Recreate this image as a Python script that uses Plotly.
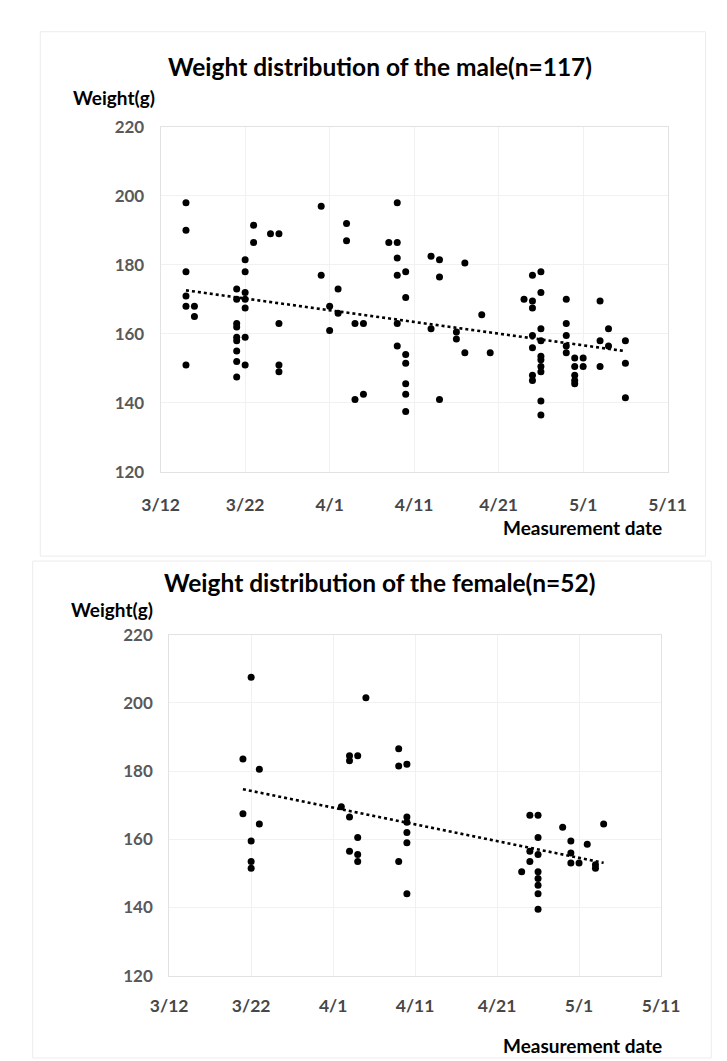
import numpy as np
import pandas as pd
import plotly.graph_objects as go

W, H = 727, 1061
YEAR = 2019

# ---------------- data ----------------
male_day = (["3/15"] * 6 + ["3/16"] * 2 + ["3/21"] * 9 + ["3/22"] * 7 + ["3/23"] * 2 +
            ["3/25"] * 1 + ["3/26"] * 4 + ["3/31"] * 2 + ["4/1"] * 2 + ["4/2"] * 2 +
            ["4/3"] * 2 + ["4/4"] * 2 + ["4/5"] * 2 + ["4/8"] * 1 + ["4/9"] * 6 +
            ["4/10"] * 7 + ["4/13"] * 2 + ["4/14"] * 3 + ["4/16"] * 2 + ["4/17"] * 2 +
            ["4/19"] * 1 + ["4/20"] * 1 + ["4/24"] * 1 + ["4/25"] * 7 + ["4/26"] * 10 +
            ["4/29"] * 5 + ["4/30"] * 5 + ["5/1"] * 2 + ["5/3"] * 3 + ["5/4"] * 2 +
            ["5/6"] * 3)
male_weight = [198, 190, 178, 171, 168, 151,
               168, 165,
               173, 170, 163, 162, 159, 158, 155, 152, 147.5,
               181.5, 178, 172, 170, 167.5, 159, 151,
               191.5, 186.5,
               189,
               189, 163, 151, 149,
               197, 177,
               168, 161,
               173, 166,
               192, 187,
               163, 141,
               163, 142.5,
               186.5,
               198, 186.5, 182, 177, 163, 156.5,
               178, 170.5, 154, 151.5, 145.5, 142.5, 137.5,
               182.5, 161.5,
               181.5, 176.5, 141,
               160.5, 158.5,
               180.5, 154.5,
               165.5,
               154.5,
               170,
               177, 169.5, 167.5, 159.5, 156, 148, 146.5,
               178, 172, 161.5, 158, 153.5, 152.5, 150.5, 149, 140.5, 136.5,
               170, 163, 159.5, 156.5, 154.5,
               153, 150.5, 148, 146.5, 145.5,
               153, 150.5,
               169.5, 158, 150.5,
               161.5, 156.5,
               158, 151.5, 141.5]

female_day = (["3/21"] * 2 + ["3/22"] * 4 + ["3/23"] * 2 + ["4/2"] * 1 + ["4/3"] * 4 +
              ["4/4"] * 4 + ["4/5"] * 1 + ["4/9"] * 3 + ["4/10"] * 6 + ["4/24"] * 1 +
              ["4/25"] * 3 + ["4/26"] * 8 + ["4/29"] * 1 + ["4/30"] * 3 + ["5/1"] * 1 +
              ["5/2"] * 1 + ["5/3"] * 2 + ["5/4"] * 1)
female_weight = [183.5, 167.5,
                 207.5, 159.5, 153.5, 151.5,
                 180.5, 164.5,
                 169.5,
                 184.5, 183, 166.5, 156.5,
                 184.5, 160.5, 155.5, 153.5,
                 201.5,
                 186.5, 181.5, 153.5,
                 182, 166.5, 165, 162, 159, 144,
                 150.5,
                 167, 156.5, 153.5,
                 167, 160.5, 155.5, 150.5, 148.5, 146.5, 144, 139.5,
                 163.5,
                 159.5, 156, 153,
                 153,
                 158.5,
                 152.5, 151.5,
                 164.5]

x_start, x_end = "3/12", "5/11"
y_ticks = [120, 140, 160, 180, 200, 220]
titles = ["Weight distribution of the male(n=117)", "Weight distribution of the female(n=52)"]
y_title = "Weight(g)"
x_title = "Measurement date"


def to_date(s):
    m, d = s.split("/")
    return pd.Timestamp(year=YEAR, month=int(m), day=int(d))


def px(x):
    return x / W


def py(y):
    return 1 - y / H


FONT = "Lato"
fig = go.Figure()

panels = [
    dict(days=male_day, weights=male_weight, xa="x", ya="y",
         box=(141, 676, 110, 462), xticklen=17),
    dict(days=female_day, weights=female_weight, xa="x2", ya="y2",
         box=(150, 669, 628, 976), xticklen=14),
]

for p in panels:
    dates = [to_date(s) for s in p["days"]]
    w = np.array(p["weights"], dtype=float)
    fig.add_trace(go.Scatter(x=dates, y=w, mode="markers", xaxis=p["xa"], yaxis=p["ya"],
                             marker=dict(color="black", size=7), showlegend=False,
                             hoverinfo="skip"))
    # linear trend line (least squares on the data)
    t = np.array([(d - dates[0]).days for d in dates], dtype=float)
    k, b = np.polyfit(t, w, 1)
    t_line = np.array([t.min(), t.max()])
    d_line = [dates[0] + pd.Timedelta(days=float(v)) for v in t_line]
    fig.add_trace(go.Scatter(x=d_line, y=k * t_line + b, mode="lines", xaxis=p["xa"],
                             yaxis=p["ya"], line=dict(color="black", width=2.6, dash="dot"),
                             showlegend=False, hoverinfo="skip"))

x_range = [to_date(x_start), to_date(x_end)]
axis_common_x = dict(type="date", range=x_range, tick0=to_date(x_start), dtick=10 * 86400000,
                     tickformat="%-m/%-d", showgrid=True, gridcolor="#f1f1f1", gridwidth=1,
                     showline=True, linecolor="#e2e2e2", linewidth=1, mirror=True,
                     ticks="outside", tickcolor="rgba(0,0,0,0)",
                     tickfont=dict(family=FONT, size=17.5, color="#474747", weight="bold"),
                     zeroline=False, fixedrange=True)
axis_common_y = dict(range=[120, 220], tickvals=y_ticks, showgrid=True, gridcolor="#f1f1f1",
                     gridwidth=1, showline=True, linecolor="#e2e2e2", linewidth=1, mirror=True,
                     ticks="outside", ticklen=12, tickcolor="rgba(0,0,0,0)",
                     tickfont=dict(family=FONT, size=17, color="#595959", weight="bold"),
                     zeroline=False, fixedrange=True)

b1 = panels[0]["box"]
b2 = panels[1]["box"]
fig.update_layout(
    width=W, height=H, margin=dict(l=0, r=0, t=0, b=0),
    paper_bgcolor="white", plot_bgcolor="white",
    xaxis=dict(axis_common_x, domain=[px(b1[0]), px(b1[1])], anchor="y",
               ticklen=panels[0]["xticklen"]),
    yaxis=dict(axis_common_y, domain=[py(b1[3]), py(b1[2])], anchor="x"),
    xaxis2=dict(axis_common_x, domain=[px(b2[0]), px(b2[1])], anchor="y2",
                ticklen=panels[1]["xticklen"]),
    yaxis2=dict(axis_common_y, domain=[py(b2[3]), py(b2[2])], anchor="x2"),
)

ann = [
    (titles[0], 372, 48, 24.5, "center"),
    (y_title, 46, 80, 19, "left"),
    (x_title, 672, 519, 19, "right"),
    (titles[1], 372, 575, 24.5, "center"),
    (y_title, 44, 602, 19, "left"),
    (x_title, 672, 1047, 19, "right"),
]
for text, x, y, s, anc in ann:
    fig.add_annotation(text=text, x=px(x), y=py(y), xref="paper", yref="paper",
                       showarrow=False, xanchor=anc, yanchor="middle",
                       font=dict(family=FONT, size=s, color="black", weight="bold"))

# faint chart-area frames
fig.add_shape(type="rect", xref="paper", yref="paper", x0=px(14), x1=px(716), y0=py(548), y1=py(13),
              line=dict(color="#ececec", width=1))
fig.add_shape(type="rect", xref="paper", yref="paper", x0=px(6), x1=px(722), y0=py(1060), y1=py(553),
              line=dict(color="#ececec", width=1))

fig.write_html("out.html")
